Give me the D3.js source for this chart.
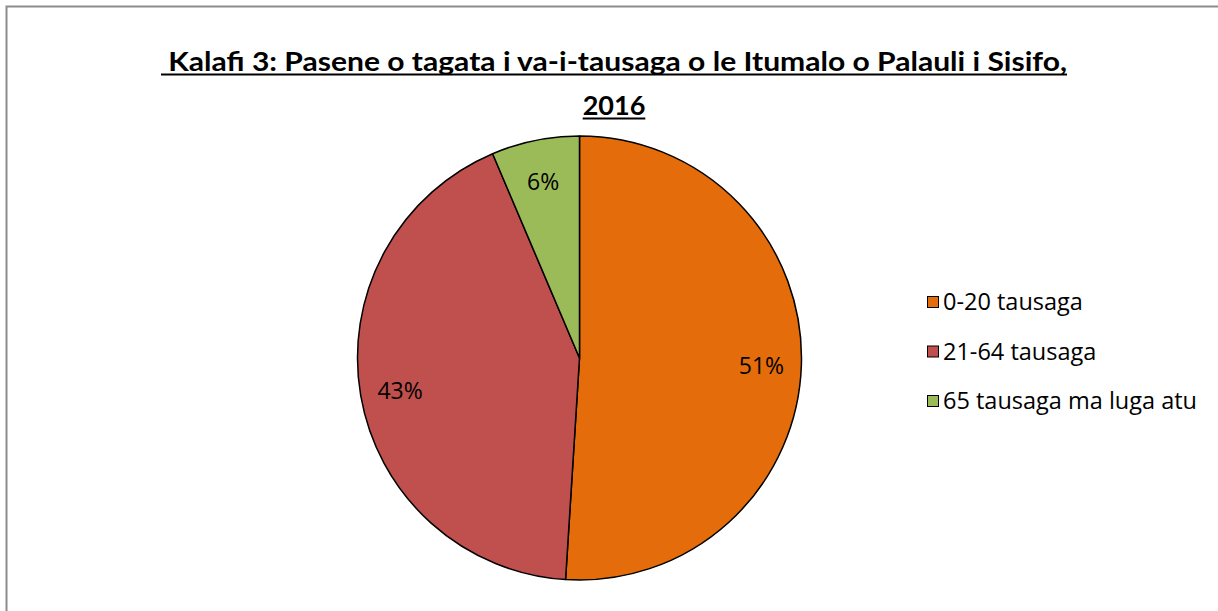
<!DOCTYPE html>
<html>
<head>
<meta charset="utf-8">
<script src="https://cdn.jsdelivr.net/npm/d3@7"></script>
<style>
  body { margin: 0; background: #fff; }
  text { font-family: "Open Sans", sans-serif; }
  .title { font-family: Lato, "Open Sans", sans-serif; }
</style>
</head>
<body>
<div id="chart"></div>
<script>
// chart data
var categories = ["0-20 tausaga", "21-64 tausaga", "65 tausaga ma luga atu"];
var shares = [51.0, 42.6, 6.4];
var colors = ["#E46C0A", "#C0504D", "#9BBB59"];
var titleLines = [" Kalafi 3: Pasene o tagata i va-i-tausaga o le Itumalo o Palauli i Sisifo,", "2016"];

var svgWidth = 1218;
var svgHeight = 611;

var svg = d3.select("#chart")
    .append("svg")
    .attr("width", svgWidth)
    .attr("height", svgHeight);

// outer frame
svg.append("rect")
    .attr("x", 6.5)
    .attr("y", 6.5)
    .attr("width", svgWidth + 20)
    .attr("height", svgHeight + 20)
    .attr("fill", "none")
    .attr("stroke", "#8c8c8c")
    .attr("stroke-width", 2);

// title (underline drawn as a line so descenders don't break it)
var title = svg.append("g");
var titleY = [71, 115];
titleLines.forEach(function(line, i) {
    var t = title.append("text")
        .attr("class", "title")
        .attr("x", 614)
        .attr("y", titleY[i])
        .attr("text-anchor", "middle")
        .attr("font-size", 27)
        .attr("font-weight", "bold")
        .style("white-space", "pre")
        .text(line);
    if (i === 0) {
        t.attr("textLength", 906).attr("lengthAdjust", "spacingAndGlyphs");
    }
    var box = t.node().getBBox();
    title.append("line")
        .attr("x1", box.x)
        .attr("x2", box.x + box.width)
        .attr("y1", titleY[i] + 3.5)
        .attr("y2", titleY[i] + 3.5)
        .attr("stroke", "#000")
        .attr("stroke-width", 2);
});

// pie
var cx = 579.5, cy = 358, radius = 222;

var pie = d3.pie().sort(null).value(d => d);
var arcs = pie(shares);

var arc = d3.arc().innerRadius(0).outerRadius(radius);
var labelArc = d3.arc().innerRadius(radius * 0.82).outerRadius(radius * 0.82);

var pieGroup = svg.append("g")
    .attr("transform", `translate(${cx}, ${cy})`);

pieGroup.selectAll("path")
    .data(arcs)
    .enter()
    .append("path")
    .attr("d", arc)
    .attr("fill", (d, i) => colors[i])
    .attr("stroke", "#000")
    .attr("stroke-width", 1.5)
    .attr("stroke-linejoin", "round");

pieGroup.selectAll("text")
    .data(arcs)
    .enter()
    .append("text")
    .attr("transform", d => `translate(${labelArc.centroid(d)})`)
    .attr("text-anchor", "middle")
    .attr("dy", "0.45em")
    .attr("font-size", 23)
    .attr("fill", "#000")
    .text(d => Math.round(d.data) + "%");

// legend
var legend = svg.append("g")
    .attr("transform", "translate(927, 302)");

var rows = legend.selectAll("g")
    .data(categories)
    .enter()
    .append("g")
    .attr("transform", (d, i) => `translate(0, ${i * 49.5})`);

rows.append("rect")
    .attr("x", 0.5)
    .attr("y", -5.5)
    .attr("width", 11)
    .attr("height", 11)
    .attr("fill", (d, i) => colors[i])
    .attr("stroke", "#000")
    .attr("stroke-width", 1);

rows.append("text")
    .attr("x", 16)
    .attr("y", 0)
    .attr("dy", "0.36em")
    .attr("font-size", 23.5)
    .attr("fill", "#000")
    .text(d => d);
</script>
</body>
</html>
